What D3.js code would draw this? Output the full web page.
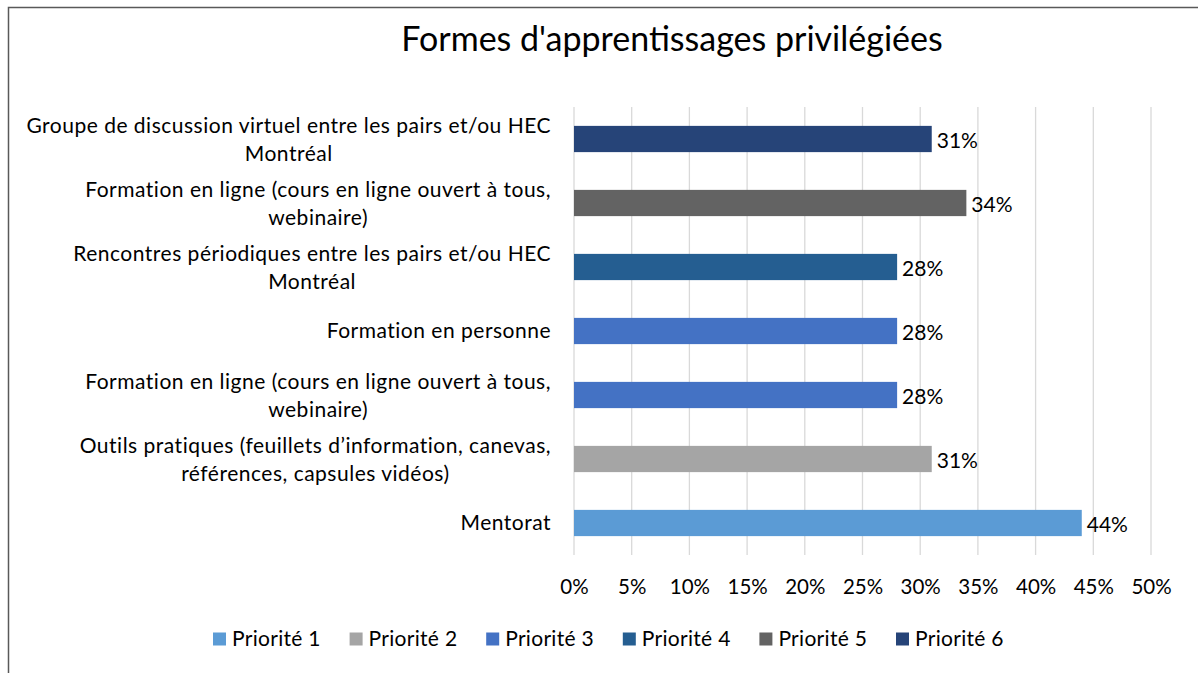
<!DOCTYPE html>
<html>
<head>
<meta charset="utf-8">
<script src="https://cdn.jsdelivr.net/npm/d3@7"></script>
<style>
  body { margin: 0; background: #fff; }
  text { font-family: Lato, "Open Sans", sans-serif; fill: #000; }
</style>
</head>
<body>
<script>
// data, top to bottom
let categories = [
  ["Groupe de discussion virtuel entre les pairs et/ou HEC", "Montréal"],
  ["Formation en ligne (cours en ligne ouvert à tous,", "webinaire)"],
  ["Rencontres périodiques entre les pairs et/ou HEC", "Montréal"],
  ["Formation en personne"],
  ["Formation en ligne (cours en ligne ouvert à tous,", "webinaire)"],
  ["Outils pratiques (feuillets d’information, canevas,", "références, capsules vidéos)"],
  ["Mentorat"]
];
let values = [0.31, 0.34, 0.28, 0.28, 0.28, 0.31, 0.44];
let priority = [6, 5, 4, 3, 3, 2, 1];

let seriesNames = ["Priorité 1", "Priorité 2", "Priorité 3", "Priorité 4", "Priorité 5", "Priorité 6"];
let seriesColors = ["#5B9BD5", "#A5A5A5", "#4472C4", "#255E91", "#636363", "#264478"];
let ticks = [0, 0.05, 0.1, 0.15, 0.2, 0.25, 0.3, 0.35, 0.4, 0.45, 0.5];

let W = 1198, H = 673;

let svg = d3.select('body')
      .append('svg')
      .attr('width', W)
      .attr('height', H);

// chart frame (only top/left visible in the crop)
svg.append('rect')
   .attr('x', 8.5).attr('y', 7.5)
   .attr('width', W + 20).attr('height', H + 20)
   .style('fill', 'none')
   .style('stroke', '#595959')
   .style('stroke-width', 1.5);

svg.append('text')
   .attr('x', 672).attr('y', 51)
   .attr('text-anchor', 'middle')
   .style('font-size', '34px')
   .text("Formes d'apprentissages privilégiées");

let x = d3.scaleLinear().domain([0, 0.5]).range([574, 1151]);
let y = d3.scaleBand()
      .domain(d3.range(categories.length))
      .range([107, 555])
      .paddingInner(0.59)
      .paddingOuter(0.295);

let color = d3.scaleOrdinal().domain(d3.range(1, 7)).range(seriesColors);
let fmt = d3.format('.0%');

// gridlines
svg.append('g')
   .selectAll('line')
   .data(ticks)
   .join('line')
   .attr('x1', d => x(d)).attr('x2', d => x(d))
   .attr('y1', 107).attr('y2', 555)
   .style('stroke', '#D9D9D9')
   .style('stroke-width', 1.3);

// x tick labels
let xAxis = svg.append('g')
   .attr('transform', 'translate(0,587)')
   .call(d3.axisBottom(x).tickValues(ticks).tickFormat(fmt).tickSize(0).tickPadding(0));
xAxis.select('.domain').remove();
xAxis.selectAll('text')
   .style('font-size', '20.5px')
   .style('font-family', 'Lato, sans-serif')
   .style('fill', '#000')
   .attr('dy', '0.35em');

// bars
svg.append('g')
   .selectAll('rect')
   .data(values)
   .join('rect')
   .attr('x', x(0))
   .attr('y', (d, i) => y(i))
   .attr('width', d => x(d) - x(0))
   .attr('height', y.bandwidth())
   .style('fill', (d, i) => color(priority[i]));

// value labels
svg.append('g')
   .selectAll('text')
   .data(values)
   .join('text')
   .attr('x', d => x(d) + 5)
   .attr('y', (d, i) => y(i) + y.bandwidth() / 2 + 2)
   .attr('dy', '0.35em')
   .style('font-size', '21px')
   .text(d => fmt(d));

// category labels: wrapped lines centred on each other, block right-aligned to axis
let lineH = 28.5;
categories.forEach((lines, i) => {
  let g = svg.append('g');
  let cy = y(i) + y.bandwidth() / 2 + (lines.length > 1 ? 2.3 : 1);
  let top = cy - (lines.length - 1) * lineH / 2;
  let t = g.selectAll('text')
     .data(lines)
     .join('text')
     .attr('y', (d, j) => top + j * lineH)
     .attr('dy', '0.28em')
     .attr('text-anchor', 'middle')
     .style('font-size', '21px')
     .style('letter-spacing', '0.5px')
     .text(d => d);
  let wMax = d3.max(t.nodes(), n => n.getComputedTextLength());
  t.attr('x', 551 - wMax / 2);
});

// legend
let leg = svg.append('g')
   .selectAll('g')
   .data(seriesNames)
   .join('g')
   .attr('transform', (d, i) => `translate(${213 + i * 136.6},639)`);
leg.append('rect')
   .attr('x', 0).attr('y', -6.5)
   .attr('width', 13).attr('height', 13)
   .style('fill', (d, i) => seriesColors[i]);
leg.append('text')
   .attr('x', 19)
   .attr('dy', '0.35em')
   .style('font-size', '21px')
   .style('letter-spacing', '0.3px')
   .text(d => d);
</script>
</body>
</html>
